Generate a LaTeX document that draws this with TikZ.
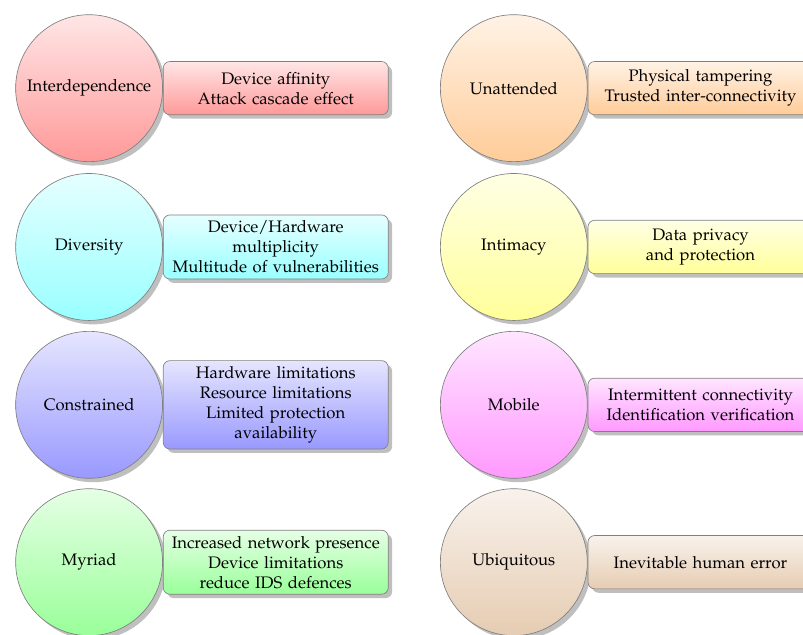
\documentclass[tikz,border=0pt]{standalone}
\usepackage[T1]{fontenc}
\usepackage{mathpazo}
\usetikzlibrary{shadows}
\usetikzlibrary{positioning}
\tikzstyle{bigvertex}=[circle,draw=black!50,minimum size=3.1cm,inner sep=0pt,drop shadow]
\tikzstyle{infobox}=[rectangle,rounded corners=4pt,draw=black!50,text width=4.5cm,align=center,minimum height=32pt,inner sep=3.5pt,drop shadow]
\begin{document}
\begin{tikzpicture}
   \useasboundingbox (0,0) rectangle (16.94,-13.39);

   % left column: property circles and their threats
   \foreach \pos/\name/\label/\col/\text in {{(1.88,-1.86)/inter/Interdependence/red/{Device affinity\\Attack cascade effect}},
        {(1.88,-5.21)/div/Diversity/cyan/{Device/Hardware\\multiplicity\\Multitude of vulnerabilities}},
        {(1.88,-8.54)/con/Constrained/blue/{Hardware limitations\\Resource limitations\\Limited protection\\availability}},
        {(1.88,-11.86)/myr/Myriad/green/{Increased network presence\\Device limitations\\reduce IDS defences}}}
   {
        \node[bigvertex, top color=\col!10, bottom color=\col!40] (\name) at \pos {\label};
        \node[infobox, top color=\col!10, bottom color=\col!40, right=0pt of \name] (\name-info) {\text};
   }

   % right column
   \foreach \pos/\name/\label/\col/\text in {{(10.84,-1.86)/una/Unattended/orange/{Physical tampering\\Trusted inter-connectivity}},
        {(10.84,-5.21)/inti/Intimacy/yellow/{Data privacy\\and protection}},
        {(10.84,-8.54)/mob/Mobile/magenta/{Intermittent connectivity\\Identification verification}},
        {(10.84,-11.86)/ubi/Ubiquitous/brown/{Inevitable human error}}}
   {
        \node[bigvertex, top color=\col!10, bottom color=\col!40] (\name) at \pos {\label};
        \node[infobox, top color=\col!10, bottom color=\col!40, right=0pt of \name] (\name-info) {\text};
   }
\end{tikzpicture}
\end{document}
